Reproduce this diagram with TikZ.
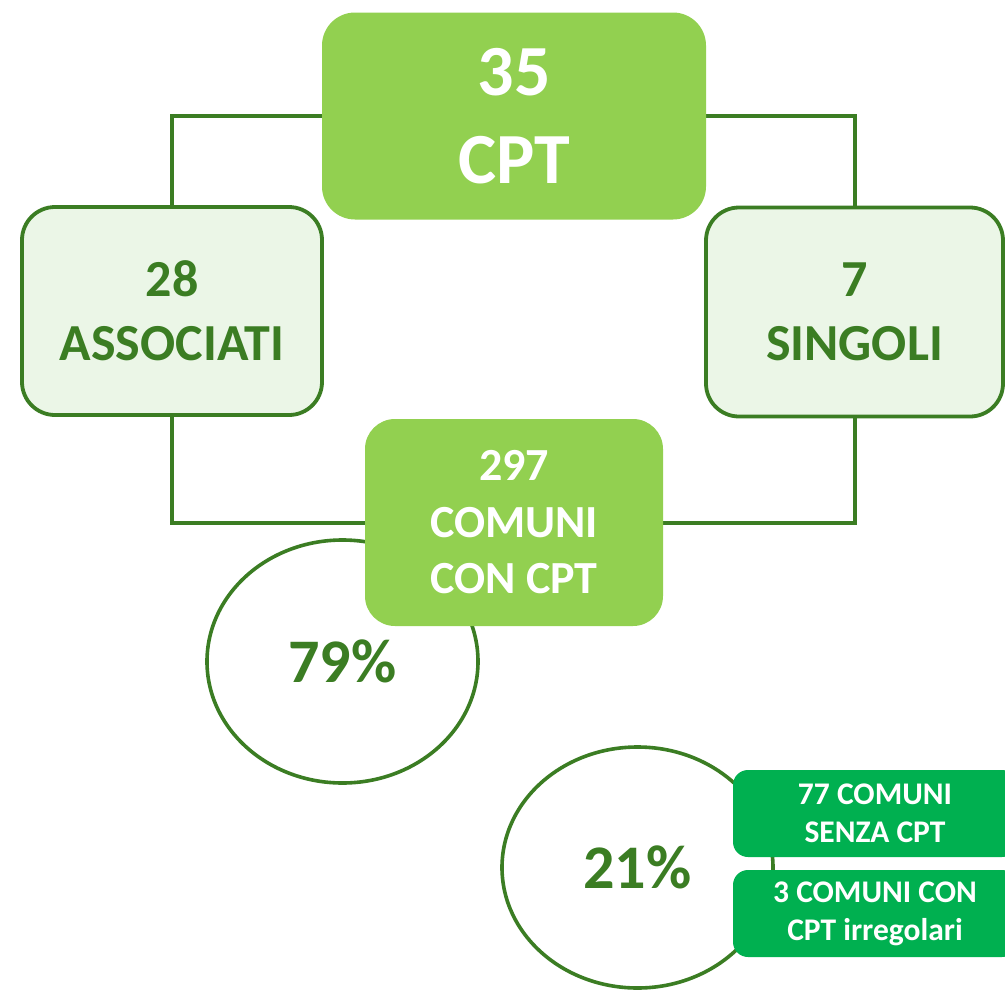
\documentclass[tikz,border=0pt]{standalone}
\usepackage{fontspec}
\setmainfont{Carlito}
\usetikzlibrary{shapes.geometric,backgrounds}
\pgfdeclarelayer{bottom}
\pgfsetlayers{bottom,background,main}
\definecolor{dgreen}{HTML}{3B7D23}
\definecolor{lfill}{HTML}{EBF6E7}
\definecolor{lgreen}{HTML}{92D050}
\definecolor{bgreen}{HTML}{00B050}
\tikzset{
  conn/.style={draw=dgreen, line width=4pt},
  solidbox/.style={rectangle, fill=lgreen, text=white, align=center, inner sep=0pt},
  palebox/.style={rectangle, fill=lfill, draw=dgreen, line width=3.8pt, text=dgreen, align=center, inner sep=0pt, rounded corners=33pt},
  pct/.style={ellipse, draw=dgreen, line width=3.6pt, fill=white, text=dgreen, inner sep=0pt,
    font=\fontsize{62}{74}\selectfont\bfseries},
  tagbox/.style={rectangle, fill=bgreen, text=white, align=center, rounded corners=15pt, inner sep=0pt,
    minimum width=284pt, minimum height=87pt, font=\fontsize{31.5}{38}\selectfont\bfseries}
}
\begin{document}
\begin{tikzpicture}[x=1pt,y=-1pt]
\begin{pgfonlayer}{bottom}
\fill[white] (0,0) rectangle (1005,989);
\end{pgfonlayer}
\useasboundingbox (0,0) rectangle (1005,989);
\clip (0,0) rectangle (1005,989);
% nodes
\node[solidbox, rounded corners=33pt, minimum width=384pt, minimum height=207pt,
  font=\fontsize{72}{88}\selectfont\bfseries] (top) at (514,116) {35\\CPT};
\node[palebox, minimum width=300pt, minimum height=208pt,
  font=\fontsize{52}{64}\selectfont\bfseries] (assoc) at (172,311) {28\\ASSOCIATI};
\node[palebox, minimum width=297pt, minimum height=209pt,
  font=\fontsize{52}{64}\selectfont\bfseries] (singoli) at (854.5,312) {7\\SINGOLI};
\node[pct, minimum width=271pt, minimum height=243pt] (p79) at (342.5,661.5) {79\%};
\node[solidbox, rounded corners=30pt, minimum width=298pt, minimum height=207pt,
  font=\fontsize{46}{56.5}\selectfont\bfseries] (comuni) at (514,522.5) {297\\COMUNI\\CON CPT};
\node[pct, minimum width=271pt, minimum height=241pt] (p21) at (637.5,867.5) {21\%};
\node[tagbox] (senza) at (875,813.5) {77 COMUNI\\SENZA CPT};
\node[tagbox] (irreg) at (875,913.5) {3 COMUNI CON\\CPT irregolari};
% connectors behind the boxes
\begin{pgfonlayer}{background}
\draw[conn] (top.west) -| (assoc.north);
\draw[conn] (top.east) -| (singoli.north);
\draw[conn] (assoc.south) |- (comuni.west);
\draw[conn] (singoli.south) |- (comuni.east);
\end{pgfonlayer}
\end{tikzpicture}
\end{document}
